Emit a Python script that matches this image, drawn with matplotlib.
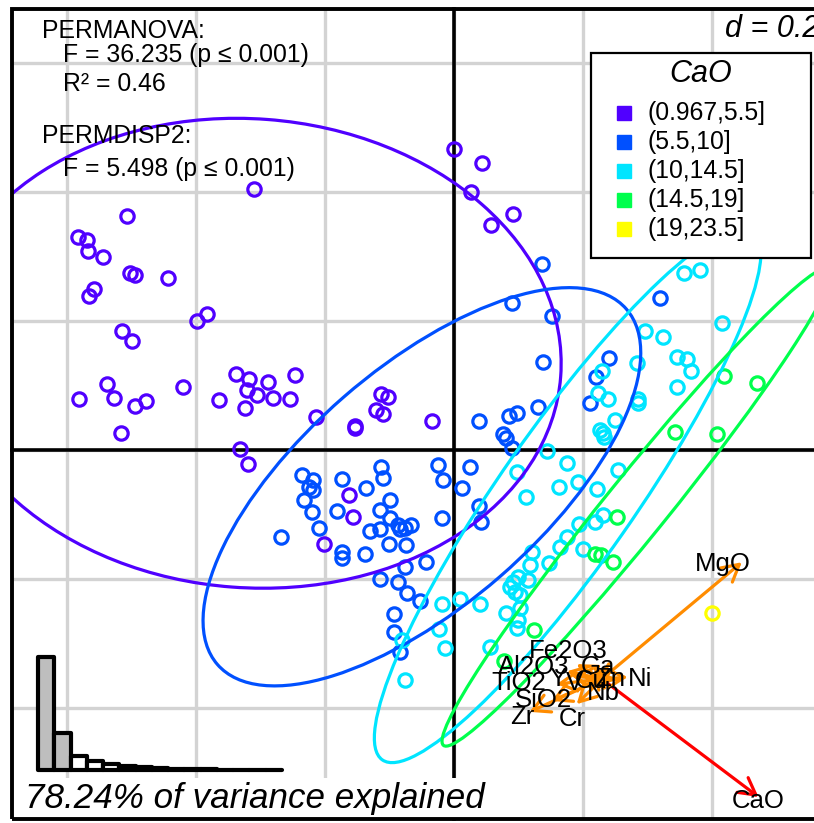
import numpy as np
import matplotlib.pyplot as plt
from matplotlib.patches import Ellipse, Rectangle
from matplotlib.transforms import Bbox, TransformedBbox

plt.rcParams['font.family'] = ['Liberation Sans', 'DejaVu Sans']

# ----------------------
# CaO classes
# ----------------------
cao_classes = ['(0.967,5.5]', '(5.5,10]', '(10,14.5]', '(14.5,19]', '(19,23.5]']
class_colors = ['#5000FF', '#0050FF', '#00E5FF', '#00FF4D', '#FFFF00']

# ----------------------
# PC1 / PC2 scores of the samples, one pair of lists per class
# ----------------------
pc1_c1 = [-0.309, -0.506, -0.582, -0.568, -0.567, -0.543, -0.502, -0.494, -0.443, -0.557,
          -0.565, -0.398, -0.382, -0.514, -0.498, -0.337, -0.317, -0.288, -0.246, -0.537,
          -0.581, -0.526, -0.477, -0.494, -0.419, -0.364, -0.320, -0.305, -0.280, -0.253,
          -0.323, -0.516, -0.213, -0.153, -0.153, -0.112, -0.102, -0.120, -0.109, -0.033,
          -0.331, -0.319, 0.001, 0.044, 0.027, 0.092, 0.058, -0.162, -0.156, -0.201]
pc2_c1 = [0.405, 0.363, 0.330, 0.326, 0.309, 0.299, 0.274, 0.271, 0.267, 0.250,
          0.239, 0.200, 0.211, 0.184, 0.169, 0.118, 0.110, 0.105, 0.116, 0.102,
          0.079, 0.081, 0.076, 0.068, 0.098, 0.078, 0.093, 0.085, 0.081, 0.079,
          0.065, 0.026, 0.051, 0.037, 0.034, 0.087, 0.082, 0.062, 0.056, 0.045,
          0.002, -0.022, 0.467, 0.445, 0.400, 0.366, 0.349, -0.070, -0.104, -0.146]

pc1_c2 = [0.137, 0.091, 0.153, 0.139, 0.320, 0.241, 0.221, 0.212, 0.040, 0.086,
          0.098, 0.131, 0.077, 0.081, 0.091, -0.024, -0.016, 0.026, 0.013, 0.040,
          0.043, -0.018, -0.043, -0.235, -0.218, -0.224, -0.218, -0.232, -0.219, -0.209,
          -0.267, -0.173, -0.112, -0.109, -0.136, -0.098, -0.114, -0.181, -0.098, -0.129,
          -0.114, -0.086, -0.075, -0.066, -0.083, -0.173, -0.173, -0.137, -0.100, -0.074,
          -0.075, -0.114, -0.086, -0.072, -0.052, -0.092, -0.092, -0.083]
pc2_c2 = [0.288, 0.228, 0.208, 0.136, 0.236, 0.143, 0.113, 0.073, 0.045, 0.053,
          0.057, 0.067, 0.025, 0.019, 0.003, -0.023, -0.047, -0.026, -0.059, -0.087,
          -0.112, -0.105, -0.174, -0.039, -0.047, -0.057, -0.062, -0.078, -0.096, -0.121,
          -0.135, -0.045, -0.026, -0.043, -0.059, -0.078, -0.093, -0.095, -0.105, -0.126,
          -0.122, -0.116, -0.121, -0.116, -0.122, -0.158, -0.167, -0.161, -0.146, -0.147,
          -0.181, -0.200, -0.205, -0.222, -0.234, -0.254, -0.282, -0.313]

pc1_c3 = [0.357, 0.382, 0.416, 0.297, 0.325, 0.284, 0.346, 0.362, 0.368, 0.346,
          0.230, 0.224, 0.240, 0.286, 0.286, 0.250, 0.227, 0.232, 0.233, 0.145,
          0.098, 0.112, 0.176, 0.193, 0.164, 0.222, 0.255, 0.232, 0.219, 0.195,
          0.176, 0.165, 0.201, 0.148, 0.122, 0.119, 0.116, 0.092, 0.088, 0.095,
          0.103, 0.100, 0.081, 0.103, 0.100, 0.098, 0.010, -0.018, 0.041, -0.022,
          -0.013, 0.057, -0.080, -0.075]
pc2_c3 = [0.274, 0.279, 0.197, 0.184, 0.175, 0.135, 0.144, 0.141, 0.122, 0.098,
          0.122, 0.088, 0.079, 0.079, 0.073, 0.047, 0.031, 0.026, 0.020, -0.002,
          -0.034, -0.073, -0.020, -0.050, -0.057, -0.060, -0.031, -0.101, -0.112, -0.115,
          -0.135, -0.150, -0.153, -0.175, -0.158, -0.178, -0.202, -0.205, -0.212, -0.220,
          -0.225, -0.197, -0.253, -0.245, -0.264, -0.276, -0.231, -0.239, -0.239, -0.277,
          -0.307, -0.305, -0.295, -0.357]

pc1_c4 = [0.419, 0.471, 0.343, 0.408, 0.253, 0.219, 0.229, 0.247, 0.125, 0.078]
pc2_c4 = [0.115, 0.104, 0.028, 0.025, -0.104, -0.161, -0.163, -0.174, -0.279, -0.327]

pc1_c5 = [0.401]
pc2_c5 = [-0.253]

# ----------------------
# Class ellipses (centre, axes, rotation in degrees)
# ----------------------
ell_x = [-0.316, -0.049, 0.177, 0.284]
ell_y = [0.150, -0.057, -0.070, -0.088]
ell_w = [0.967, 0.840, 1.002, 0.952]
ell_h = [0.727, 0.369, 0.208, 0.095]
ell_angle = [-4.3, 41.0, 55.0, 51.0]

# ----------------------
# Variable loadings drawn as arrows from a common origin
# ----------------------
var_names = ['MgO', 'CaO', 'Ni', 'Zn', 'Nb', 'Cr', 'Zr', 'SiO2', 'TiO2',
             'Al2O3', 'Fe2O3', 'Ga', 'Y', 'V', 'Cu']
load_x = [0.217, 0.243, 0.040, 0.019, 0.003, -0.039, -0.112, -0.078, -0.070,
          -0.054, -0.039, -0.012, -0.047, -0.028, -0.008]
load_y = [0.181, -0.183, 0.003, -0.002, -0.019, -0.039, -0.051, -0.034, -0.008,
          0.012, 0.023, 0.016, 0.005, -0.003, -0.005]
label_x = [0.418, 0.472, 0.289, 0.243, 0.232, 0.184, 0.106, 0.139, 0.101,
           0.125, 0.178, 0.224, 0.162, 0.188, 0.213]
label_y = [-0.177, -0.544, -0.355, -0.355, -0.377, -0.417, -0.414, -0.388, -0.361,
           -0.336, -0.312, -0.336, -0.355, -0.361, -0.358]
arrow_origin = (0.230, -0.355)

# Eigenvalues (share of total inertia) for the scree inset
eig = [0.59, 0.1924, 0.075, 0.048, 0.032, 0.022, 0.014, 0.01, 0.006, 0.004,
       0.003, 0.0017, 0.001, 0.0006, 0.0003]

# Test statistics
permanova_F = 36.235
permanova_R2 = 0.46
permdisp_F = 5.498
p_value = 0.001
grid_d = 0.2

groups = [(pc1_c1, pc2_c1), (pc1_c2, pc2_c2), (pc1_c3, pc2_c3),
          (pc1_c4, pc2_c4), (pc1_c5, pc2_c5)]

# ----------------------
# Figure
# ----------------------
fig = plt.figure(figsize=(8.14, 8.23), dpi=100)
ax = fig.add_axes([0, 0, 1, 1])
ax.set_xlim(-0.7031, 0.5589)
ax.set_ylim(-0.5783, 0.6977)
ax.axis('off')

fl, fr, fb, ft = -0.685, 0.75, -0.572, 0.684
clip = Rectangle((fl, fb), fr - fl, ft - fb, transform=ax.transData)

# grid
for g in np.arange(-3, 4) * grid_d:
    ln, = ax.plot([g, g], [fb, ft], color='#D3D3D3', lw=2.4, zorder=1)
    ln.set_clip_path(clip)
    ln, = ax.plot([fl, fr], [g, g], color='#D3D3D3', lw=2.4, zorder=1)
    ln.set_clip_path(clip)
ax.plot([0, 0], [fb, ft], color='black', lw=2.6, zorder=2)
ax.plot([fl, fr], [0, 0], color='black', lw=2.6, zorder=2)

# samples
for (xs, ys), col in zip(groups, class_colors):
    ln, = ax.plot(xs, ys, 'o', ms=9.6, mfc='none', mec=col, mew=2.3, zorder=3)
    ln.set_clip_path(clip)

# ellipses
for i in range(len(ell_x)):
    e = Ellipse((ell_x[i], ell_y[i]), ell_w[i], ell_h[i], angle=ell_angle[i],
                fill=False, edgecolor=class_colors[i], lw=2.3, zorder=4)
    ax.add_patch(e)
    e.set_clip_path(clip)

# loading arrows
ox, oy = arrow_origin
for name, lx, ly in zip(var_names, load_x, load_y):
    col = 'red' if name == 'CaO' else '#FF8C00'
    ax.annotate('', xy=(ox + lx, oy + ly), xytext=(ox, oy), zorder=6,
                arrowprops=dict(arrowstyle='->,head_length=0.6,head_width=0.33',
                                color=col, lw=2.3, shrinkA=0, shrinkB=0,
                                mutation_scale=20, capstyle='round',
                                joinstyle='round'))
label_box = TransformedBbox(Bbox([[fl, fb], [0.511, ft]]), ax.transData)
for name, tx, ty in zip(var_names, label_x, label_y):
    t = ax.text(tx, ty, name, fontsize=18.5, ha='center', va='center', zorder=7)
    t.set_clip_box(label_box)
    t.set_clip_on(True)

# statistics
ax.text(-0.638, 0.6388, 'PERMANOVA:', fontsize=17.8, zorder=7)
ax.text(-0.6054, 0.6016, f'F = {permanova_F:.3f} (p \u2264 {p_value:.3f})',
        fontsize=17.8, zorder=7)
ax.text(-0.6054, 0.5566, f'R\u00b2 = {permanova_R2:.2f}', fontsize=17.8, zorder=7)
ax.text(-0.638, 0.476, 'PERMDISP2:', fontsize=17.8, zorder=7)
ax.text(-0.6054, 0.4248, f'F = {permdisp_F:.3f} (p \u2264 {p_value:.3f})',
        fontsize=17.8, zorder=7)

ax.text(0.421, 0.640, f'd = {grid_d:g}', fontsize=22, style='italic', zorder=7)

# legend
ax.add_patch(Rectangle((0.2132, 0.2977), 0.3411, 0.3178, facecolor='white',
                       edgecolor='black', lw=1.6, zorder=8))
ax.text(0.3837, 0.583, 'CaO', fontsize=22, style='italic', ha='center',
        va='center', zorder=9)
for i, (lab, col) in enumerate(zip(cao_classes, class_colors)):
    yy = 0.5225 - i * 0.045
    ax.plot(0.2643, yy, 's', ms=10, color=col, zorder=9)
    ax.text(0.300, yy, lab, fontsize=17.8, va='center', zorder=9)

# variance explained
ax.add_patch(Rectangle((fl, fb), 0.06 - fl, -0.5085 - fb, facecolor='white',
                       edgecolor='none', zorder=5))
share = 100 * sum(eig[:2]) / sum(eig)
ax.text(-0.664, -0.555, f'{share:.2f}% of variance explained', fontsize=25.2,
        style='italic', zorder=7)

# frame
ax.add_patch(Rectangle((fl, fb), fr - fl, ft - fb, fill=False, edgecolor='black',
                       lw=2.8, zorder=10, clip_on=False))

# scree inset
iax = fig.add_axes([38 / 814, 53 / 823, 244 / 814, 113 / 823])
bar_colors = ['#BEBEBE'] * 2 + ['white'] * (len(eig) - 2)
share_eig = np.array(eig) / sum(eig)
bars = iax.bar(np.arange(len(eig)), share_eig, width=1.0, color=bar_colors,
               edgecolor='black', lw=3.0, joinstyle='round', capstyle='round')
for b in bars:
    b.set_clip_on(False)
iax.set_xlim(-0.5, len(eig) - 0.5)
iax.set_ylim(0, share_eig[0])
iax.axis('off')

fig.savefig('out.png', dpi=100)
